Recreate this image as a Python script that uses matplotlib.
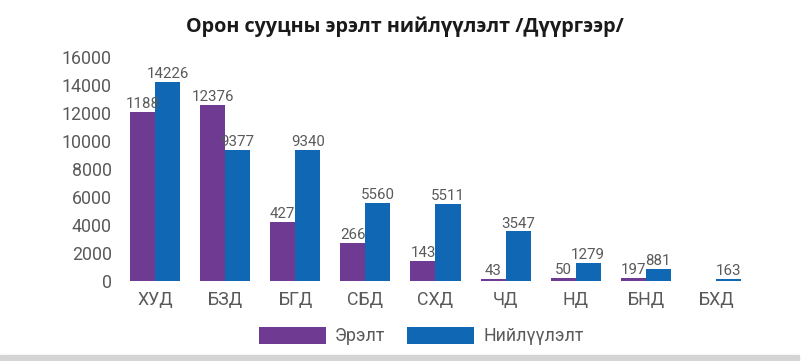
import numpy as np
import matplotlib.pyplot as plt
from matplotlib.patches import Rectangle

# ============================================================
# Data
# ============================================================

districts = ["ХУД", "БЗД", "БГД", "СБД", "СХД", "ЧД", "НД", "БНД", "БХД"]

# bar heights as drawn
demand = [12050, 12550, 4230, 2730, 1450, 120, 200, 250, 0]
supply = [14226, 9377, 9340, 5560, 5511, 3547, 1279, 881, 163]

# value labels as printed on the chart
demand_labels = ["1188", "12376", "427", "266", "143", "43", "50", "197", ""]
supply_labels = ["14226", "9377", "9340", "5560", "5511", "3547", "1279", "881", "163"]

yticks = [0, 2000, 4000, 6000, 8000, 10000, 12000, 14000, 16000]

purple = "#6E3A92"
blue = "#1067B3"
grey_txt = "#5a5a5a"

plt.rcParams["font.family"] = ["Roboto", "DejaVu Sans"]

# ============================================================
# Figure
# ============================================================

fig = plt.figure(figsize=(8.07, 3.61), dpi=100)
ax = fig.add_axes([0.1487, 0.2216, 0.7819, 0.6204])

x = np.arange(len(districts))
w = 0.357

b1 = ax.bar(x - w / 2, demand, w, color=purple, label="Эрэлт")
b2 = ax.bar(x + w / 2, supply, w, color=blue, label="Нийлүүлэлт")

for xi, h, t in zip(x, demand, demand_labels):
    if t:
        ax.text(xi - w / 2, h + 60, t, ha="center", va="bottom",
                fontsize=10.8, color=grey_txt)
for xi, h, t in zip(x, supply, supply_labels):
    ax.text(xi + w / 2, h + 60, t, ha="center", va="bottom",
            fontsize=10.8, color=grey_txt)

ax.set_xlim(-0.5, len(districts) - 0.5)
ax.set_ylim(0, 16000)
ax.set_yticks(yticks)
ax.set_xticks(x)
ax.set_xticklabels(districts)
ax.tick_params(axis="both", length=0, labelsize=12.8, labelcolor=grey_txt)
ax.tick_params(axis="y", pad=6)
ax.tick_params(axis="x", pad=7)
for s in ax.spines.values():
    s.set_visible(False)

fig.text(0.502, 0.925, "Орон сууцны эрэлт нийлүүлэлт /Дүүргээр/",
         ha="center", va="center", fontsize=14.2, fontweight="bold",
         family=["Open Sans", "DejaVu Sans"], color="#1a1a1a")

leg = fig.legend(handles=[b1, b2], loc="center", bbox_to_anchor=(0.522, 0.069),
                 ncol=2, frameon=False, fontsize=12.8, handlelength=3.8,
                 handleheight=1.1, columnspacing=1.2, handletextpad=0.5)
for t in leg.get_texts():
    t.set_color(grey_txt)

# light grey strip at the bottom edge
fig.patches.append(Rectangle((0, 0), 0.99, 0.017, transform=fig.transFigure,
                             color="#d4d4d4", zorder=0))

fig.savefig("out.png", dpi=100)
